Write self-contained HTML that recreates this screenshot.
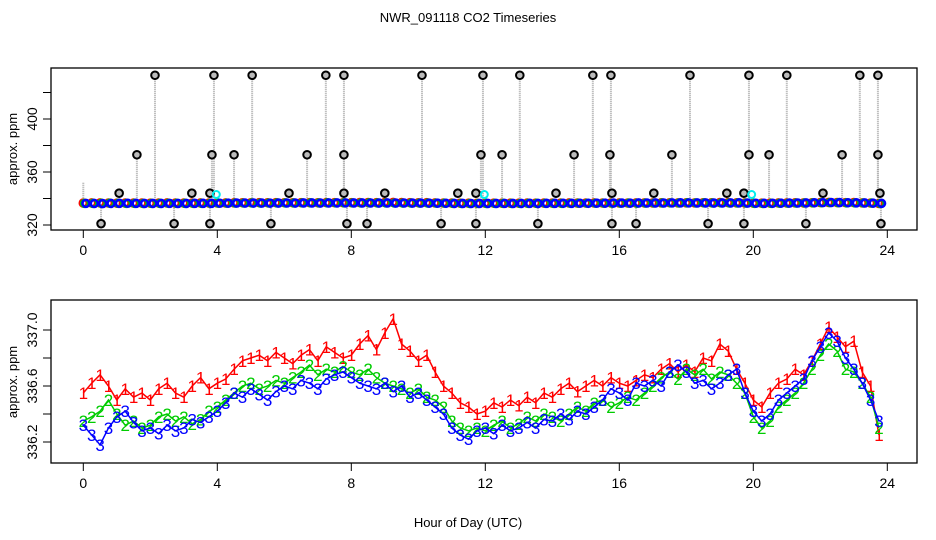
<!DOCTYPE html>
<html><head><meta charset="utf-8"><style>
body{margin:0;background:#fff}
svg{display:block;font-family:"Liberation Sans",sans-serif}
</style></head><body>
<svg id="c" width="936" height="540" xmlns="http://www.w3.org/2000/svg">
<text x="468" y="22" text-anchor="middle" font-size="13">NWR_091118  CO2 Timeseries</text>
<text x="468" y="527" text-anchor="middle" font-size="13">Hour of Day (UTC)</text>
<text transform="translate(17,149) rotate(-90)" text-anchor="middle" font-size="13">approx. ppm</text>
<text transform="translate(17,382) rotate(-90)" text-anchor="middle" font-size="13">approx. ppm</text>
<g id="top"></g><g id="bot"></g>
</svg>
<script>
const xTicks=[0,4,8,12,16,20,24];
const topYTicks=[320,340,360,380,400,420];
const topYLabels=[320,360,400];
const botYTicks=[336.2,336.4,336.6,336.8,337.0];
const botYLabels=[336.2,336.6,337.0];
const hours=[];for(let i=0;i<96;i++)hours.push(i*0.25);
const series1=[336.55,336.62,336.68,336.6,336.5,336.58,336.52,336.55,336.5,336.58,336.62,336.55,336.52,336.6,336.66,336.58,336.62,336.65,336.72,336.78,336.8,336.82,336.78,336.84,336.8,336.76,336.82,336.86,336.78,336.88,336.84,336.8,336.82,336.9,336.96,336.86,336.98,337.08,336.9,336.85,336.78,336.82,336.7,336.6,336.55,336.48,336.45,336.4,336.42,336.48,336.45,336.5,336.46,336.52,336.48,336.55,336.52,336.58,336.62,336.56,336.6,336.64,336.6,336.66,336.62,336.6,336.64,336.68,336.66,336.72,336.76,336.7,336.75,336.7,336.8,336.78,336.9,336.85,336.72,336.62,336.5,336.45,336.55,336.62,336.65,336.72,336.68,336.78,336.9,337.02,336.95,336.88,336.92,336.7,336.6,336.25];
const series2=[336.35,336.38,336.42,336.5,336.4,336.32,336.35,336.3,336.32,336.38,336.4,336.35,336.38,336.33,336.36,336.42,336.45,336.5,336.55,336.6,336.62,336.58,336.6,336.64,336.62,336.66,336.7,336.75,336.68,336.72,336.7,336.74,336.7,336.68,336.72,336.66,336.62,336.6,336.58,336.55,336.58,336.52,336.5,336.45,336.35,336.3,336.28,336.3,336.28,336.32,336.35,336.3,336.33,336.38,336.35,336.4,336.38,336.35,336.4,336.45,336.42,336.48,336.5,336.45,336.48,336.52,336.5,336.55,336.6,336.66,336.7,336.65,336.72,336.68,336.72,336.65,336.7,336.68,336.62,336.55,336.38,336.3,336.35,336.45,336.5,336.55,336.62,336.72,336.82,336.9,336.85,336.72,336.7,336.62,336.52,336.3];
const series3=[336.32,336.25,336.18,336.3,336.38,336.42,336.34,336.28,336.3,336.26,336.32,336.28,336.3,336.36,336.34,336.38,336.42,336.48,336.55,336.52,336.58,336.54,336.5,336.56,336.6,336.58,336.64,336.62,336.58,336.65,336.68,336.7,336.66,336.62,336.6,336.58,336.62,336.56,336.6,336.52,336.55,336.5,336.45,336.4,336.3,336.25,336.22,336.28,336.3,336.26,336.32,336.28,336.3,336.34,336.3,336.36,336.35,336.4,336.36,336.42,336.4,336.45,336.5,336.58,336.55,336.5,336.62,336.6,336.64,336.6,336.7,336.75,336.7,336.62,336.64,336.58,336.62,336.68,336.72,336.55,336.42,336.35,336.4,336.5,336.55,336.6,336.65,336.78,336.88,336.98,336.92,336.8,336.72,336.62,336.5,336.35];
const outlierHours=[2.14,3.9,5.04,7.24,7.78,10.11,11.93,13.03,15.21,15.75,18.11,19.87,21.0,23.18,23.72,1.6,3.84,4.5,6.68,7.78,11.87,12.5,14.65,15.72,17.57,19.87,20.47,22.65,23.72,1.07,3.24,3.78,6.14,7.78,9.0,11.18,11.72,14.11,15.78,17.03,19.21,19.72,22.08,23.78,0.53,2.71,3.78,5.6,7.87,8.47,10.68,11.72,13.57,15.78,16.5,18.65,19.72,21.57,23.81];
const outlierValues=[433,433,433,433,433,433,433,433,433,433,433,433,433,433,433,373,373,373,373,373,373,373,373,373,373,373,373,373,373,344,344,344,344,344,344,344,344,344,344,344,344,344,344,344,321,321,321,321,321,321,321,321,321,321,321,321,321,321,321];
const cyanHours=[3.97,11.97,19.95];
const cyanValues=[343,343,343];

const NS="http://www.w3.org/2000/svg";
function mk(p,t,a){const e=document.createElementNS(NS,t);for(const k in a)e.setAttribute(k,a[k]);p.appendChild(e);return e;}
const X0=51,X1=917;
const xs=h=>83.3+h*33.5;
const yT=v=>225-(v-320)*1.325;
const yB=v=>442-(v-336.2)*140;
function panel(g,top,bot,yS,yTicks,yLabels,fmt,nm){
  const r=mk(g,'rect',{x:X0,y:top,width:X1-X0,height:bot-top,fill:'none',stroke:'#000','stroke-width':1.3});
  
  xTicks.forEach(t=>{const x=xs(t);
    const l=mk(g,'line',{x1:x,x2:x,y1:bot,y2:bot+8,stroke:'#000'});
    const tx=mk(g,'text',{x:x,y:bot+25,'text-anchor':'middle','font-size':14});tx.textContent=t;});
  yTicks.forEach(t=>{const y=yS(t);
    const l=mk(g,'line',{x1:X0-8,x2:X0,y1:y,y2:y,stroke:'#000'});});
  yLabels.forEach(t=>{const y=yS(t);
    const tx=mk(g,'text',{transform:`translate(${X0-14},${y}) rotate(-90)`,'text-anchor':'middle','font-size':14});tx.textContent=fmt(t);});
}
const gt=document.getElementById('top'),gb=document.getElementById('bot');
panel(gt,68,230,yT,topYTicks,topYLabels,v=>v,'top');
panel(gb,300,463,yB,botYTicks,botYLabels,v=>v.toFixed(1),'bottom');
const dl=mk(gt,'line',{x1:xs(0),x2:xs(0),y1:yT(336),y2:yT(352),stroke:'#aaa','stroke-dasharray':'1,1','stroke-width':2});

outlierHours.forEach((h,i)=>{
  const l=mk(gt,'line',{x1:xs(h),x2:xs(h),y1:yT(336),y2:yT(outlierValues[i]),stroke:'#aaa','stroke-dasharray':'1,1','stroke-width':2});
  });
[[series1,'#f00'],[series2,'#0c0'],[series3,'#00f']].forEach(([s,c],k)=>{
  hours.forEach((h,i)=>{const e=mk(gt,'circle',{cx:xs(h)+k*1.3,cy:yT(s[i]),r:3.5,fill:'none',stroke:c,'stroke-width':2.6});
    });});
outlierHours.forEach((h,i)=>{
  const e=mk(gt,'circle',{cx:xs(h),cy:yT(outlierValues[i]),r:3.8,fill:'#bbb',stroke:'#000','stroke-width':2});
  });
cyanHours.forEach((h,i)=>{
  const e=mk(gt,'circle',{cx:xs(h),cy:yT(cyanValues[i]),r:3.5,fill:'none',stroke:'#0ee','stroke-width':2});
  });
[[series1,'#f00','1'],[series2,'#0c0','2'],[series3,'#00f','3']].forEach(([s,c,ch],k)=>{
  const pl=mk(gb,'polyline',{points:hours.map((h,i)=>xs(h)+','+yB(s[i])).join(' '),fill:'none',stroke:c,'stroke-width':1.5});
  
  hours.forEach((h,i)=>{const t=mk(gb,'text',{x:xs(h),y:yB(s[i])+6,'text-anchor':'middle','font-size':17,fill:c});t.textContent=ch;
    });
});
</script>
</body></html>
